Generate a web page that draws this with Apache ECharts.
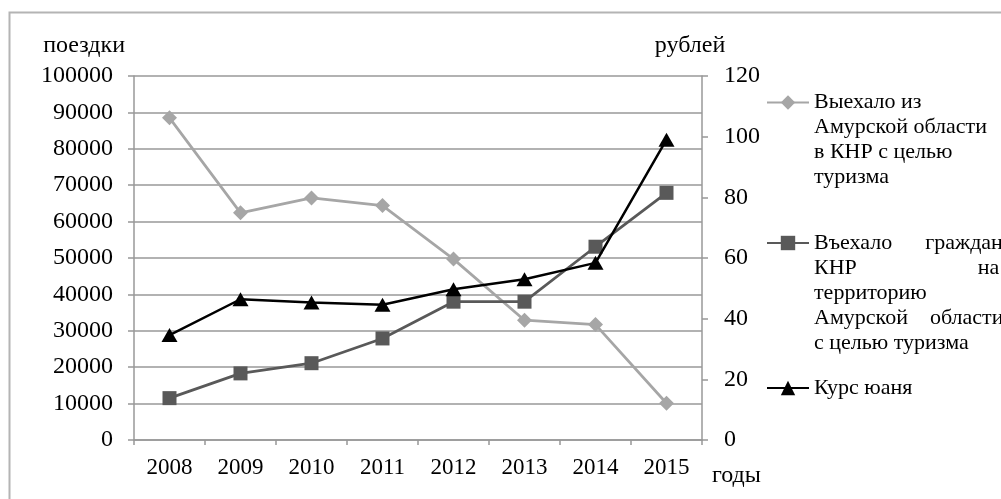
<!DOCTYPE html>
<html>
<head>
<meta charset="utf-8">
<script src="https://cdn.jsdelivr.net/npm/echarts@6/dist/echarts.min.js"></script>
<style>
  html, body { margin: 0; padding: 0; background: #ffffff; }
  #chart { width: 1001px; height: 499px; }
</style>
</head>
<body>
<div id="chart"></div>
<script>
// Years on the horizontal axis
const years = ['2008', '2009', '2010', '2011', '2012', '2013', '2014', '2015'];

// Trips from Amur region to China for tourism (left axis, trips)
const departedToChina = [88500, 62400, 66500, 64400, 49700, 32900, 31700, 10100];

// Chinese citizens arriving in Amur region for tourism (left axis, trips)
const arrivedFromChina = [11500, 18300, 21100, 27900, 38000, 38000, 53100, 67900];

// Yuan exchange rate (right axis, rubles)
const yuanRate = [34.6, 46.4, 45.3, 44.6, 49.7, 53.0, 58.4, 99.0];

// Series names, as shown in the legend (justified text lines)
const nameDeparted = 'Выехало из Амурской области в КНР с целью туризма';
const nameArrived = 'Въехало граждан КНР на территорию Амурской области с целью туризма';
const nameRate = 'Курс юаня';

const legendLines = {};
legendLines[nameDeparted] = ['Выехало из', 'Амурской области', 'в КНР с целью', 'туризма'];
legendLines[nameArrived] = ['Въехало      граждан', 'КНР                      на', 'территорию', 'Амурской    области', 'с целью туризма'];
legendLines[nameRate] = ['Курс юаня'];

const FONT = "'Liberation Serif', 'Times New Roman', serif";
const LEGEND_LINE = 25;
const GRID_COLOR = '#989898';

// The legend text is vertically centred on its icon, so blank lines are put
// above the text to keep the icon level with the first line.
function legendText(name) {
  const lines = legendLines[name];
  return '\n'.repeat(lines.length - 1) + lines.join('\n');
}

function legendFor(name, iconY) {
  const n = legendLines[name].length;
  const h = (2 * n - 1) * LEGEND_LINE;
  return {
    data: [name],
    orient: 'vertical',
    left: 766,
    top: iconY - h / 2,
    padding: 0,
    itemWidth: 42,
    itemHeight: 18,
    selectedMode: false,
    formatter: legendText,
    textStyle: {
      fontFamily: FONT,
      fontSize: 22,
      color: '#000',
      lineHeight: LEGEND_LINE
    }
  };
}

const chart = echarts.init(document.getElementById('chart'), null, { renderer: 'canvas' });

const axisLabelStyle = { fontFamily: FONT, fontSize: 23, color: '#000' };

chart.setOption({
  animation: false,
  backgroundColor: '#ffffff',
  graphic: [{
    type: 'rect',
    shape: { x: 9.5, y: 12.5, width: 1200, height: 700 },
    style: { fill: null, stroke: '#b4b4b4', lineWidth: 2 },
    silent: true,
    z: -10
  }],
  legend: [
    legendFor(nameDeparted, 102.5),
    legendFor(nameArrived, 243),
    legendFor(nameRate, 388)
  ],
  grid: { left: 134, right: 299, top: 76, bottom: 59, containLabel: false },
  xAxis: {
    type: 'category',
    data: years,
    boundaryGap: true,
    name: 'годы',
    nameLocation: 'end',
    nameGap: 10,
    nameTextStyle: {
      fontFamily: FONT, fontSize: 24, color: '#000',
      verticalAlign: 'top', padding: [24, 0, 0, 0]
    },
    axisLine: { show: true, lineStyle: { color: GRID_COLOR, width: 1.5 } },
    axisTick: { show: true, interval: 0, length: 5, lineStyle: { color: GRID_COLOR, width: 1.5 } },
    axisLabel: Object.assign({ margin: 16, interval: 0 }, axisLabelStyle),
    splitLine: { show: false }
  },
  yAxis: [{
    type: 'value',
    min: 0,
    max: 100000,
    interval: 10000,
    name: 'поездки',
    nameLocation: 'end',
    nameGap: 18,
    nameTextStyle: {
      fontFamily: FONT, fontSize: 24, color: '#000',
      align: 'right', padding: [0, 9, 0, 0]
    },
    axisLine: { show: true, lineStyle: { color: GRID_COLOR, width: 1.5 } },
    axisTick: { show: true, length: 6, lineStyle: { color: GRID_COLOR, width: 1.5 } },
    axisLabel: Object.assign({ margin: 21, formatter: function (v) { return String(v); } },
      axisLabelStyle, { fontSize: 24 }),
    splitLine: { show: true, lineStyle: { color: GRID_COLOR, width: 1.5 } }
  }, {
    type: 'value',
    min: 0,
    max: 120,
    interval: 20,
    position: 'right',
    name: 'рублей',
    nameLocation: 'end',
    nameGap: 18,
    nameTextStyle: {
      fontFamily: FONT, fontSize: 24, color: '#000',
      align: 'center', padding: [0, 24, 0, 0]
    },
    axisLine: { show: true, lineStyle: { color: GRID_COLOR, width: 1.5 } },
    axisTick: { show: true, length: 6, lineStyle: { color: GRID_COLOR, width: 1.5 } },
    axisLabel: Object.assign({ margin: 22 }, axisLabelStyle, { fontSize: 24 }),
    splitLine: { show: false }
  }],
  series: [{
    name: nameDeparted,
    type: 'line',
    yAxisIndex: 0,
    data: departedToChina,
    symbol: 'diamond',
    symbolSize: 15,
    color: '#a6a6a6',
    lineStyle: { color: '#a6a6a6', width: 2.75 },
    itemStyle: { color: '#a6a6a6' },
    z: 2
  }, {
    name: nameArrived,
    type: 'line',
    yAxisIndex: 0,
    data: arrivedFromChina,
    symbol: 'rect',
    symbolSize: 14,
    color: '#595959',
    lineStyle: { color: '#595959', width: 2.75 },
    itemStyle: { color: '#595959' },
    z: 3
  }, {
    name: nameRate,
    type: 'line',
    yAxisIndex: 1,
    data: yuanRate,
    symbol: 'triangle',
    symbolSize: [16, 14],
    color: '#000000',
    lineStyle: { color: '#000000', width: 2.5 },
    itemStyle: { color: '#000000' },
    z: 4
  }]
});
</script>
</body>
</html>
